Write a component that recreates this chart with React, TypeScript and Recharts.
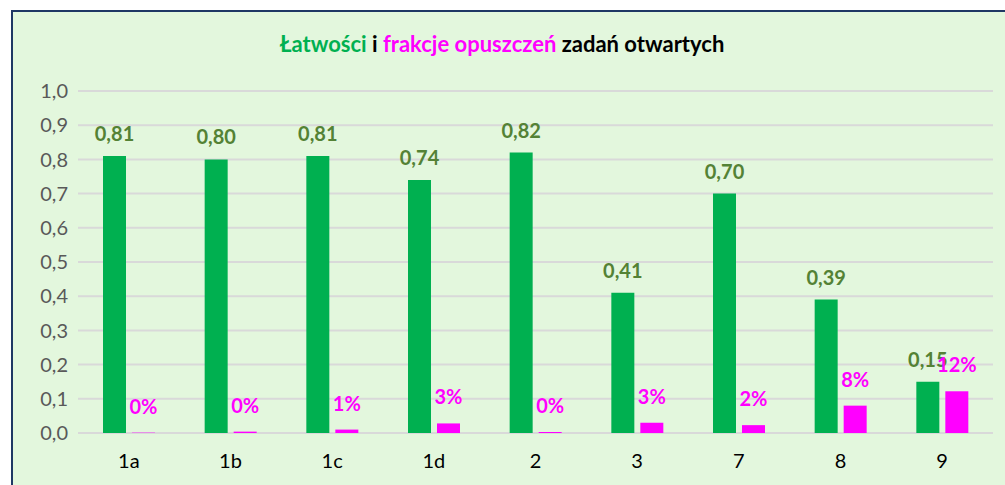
import { BarChart, Bar, XAxis, YAxis, CartesianGrid, LabelList } from "recharts"

const zadania = ["1a", "1b", "1c", "1d", "2", "3", "7", "8", "9"]
const latwosci = [0.81, 0.8, 0.81, 0.74, 0.82, 0.41, 0.7, 0.39, 0.15]
const opuszczenia = [0.001, 0.004, 0.01, 0.028, 0.003, 0.03, 0.023, 0.08, 0.122]
const yTicks = [0, 0.1, 0.2, 0.3, 0.4, 0.5, 0.6, 0.7, 0.8, 0.9, 1]

const data = zadania.map((z, i) => ({
  zadanie: z,
  latwosc: latwosci[i],
  opuszczenie: opuszczenia[i],
}))

const FONT = "Lato, 'Open Sans', sans-serif"

const fmtDec = (v: number) => v.toFixed(1).replace(".", ",")
const fmtLat = (v: any) => Number(v).toFixed(2).replace(".", ",")
const fmtPct = (v: any) => Math.round(Number(v) * 100) + "%"

export default function App() {
  return (
    <div
      style={{
        position: "fixed",
        left: 0,
        top: 0,
        width: 1005,
        height: 485,
        overflow: "hidden",
        background: "#ffffff",
        fontFamily: FONT,
      }}
    >
      <div
        style={{
          position: "absolute",
          left: 11,
          top: 10,
          width: 1010,
          height: 490,
          border: "2px solid #1f3864",
          background: "#e3f7dd",
          boxSizing: "border-box",
        }}
      >
        <div
          style={{
            position: "absolute",
            left: 0,
            top: 19,
            width: 978,
            height: 26,
            lineHeight: "26px",
            textAlign: "center",
            fontSize: 22,
            fontWeight: 700,
            color: "#000000",
          }}
        >
          <span style={{ color: "#00b050" }}>Łatwości</span> i{" "}
          <span style={{ color: "#ff00ff" }}>frakcje opuszczeń</span> zadań otwartych
        </div>
        <BarChart
          width={1000}
          height={473}
          data={data}
          margin={{ top: 79, right: 20, left: 0, bottom: 12 }}
          barSize={23}
          barGap={6}
          style={{ fontFamily: FONT, position: "absolute", left: 0, top: 0 }}
        >
          <CartesianGrid vertical={false} stroke="#d9d9d9" strokeWidth={2} />
          <XAxis
            dataKey="zadanie"
            height={40}
            tickLine={false}
            axisLine={false}
            tickSize={0}
            tickMargin={21}
            tick={{ fill: "#000000", fontSize: 20 }}
          />
          <YAxis
            domain={[0, 1]}
            ticks={yTicks}
            width={65}
            tickLine={false}
            axisLine={false}
            tickSize={0}
            tickMargin={10}
            tickFormatter={fmtDec}
            tick={{ fill: "#595959", fontSize: 20 }}
          />
          <Bar dataKey="latwosc" fill="#00b050" isAnimationActive={false}>
            <LabelList
              dataKey="latwosc"
              position="top"
              offset={15}
              formatter={fmtLat}
              fill="#548235"
              fontSize={20}
              fontWeight={700}
            />
          </Bar>
          <Bar dataKey="opuszczenie" fill="#ff00ff" isAnimationActive={false}>
            <LabelList
              dataKey="opuszczenie"
              position="top"
              offset={19}
              formatter={fmtPct}
              fill="#ff00ff"
              fontSize={20}
              fontWeight={700}
            />
          </Bar>
        </BarChart>
      </div>
    </div>
  )
}
